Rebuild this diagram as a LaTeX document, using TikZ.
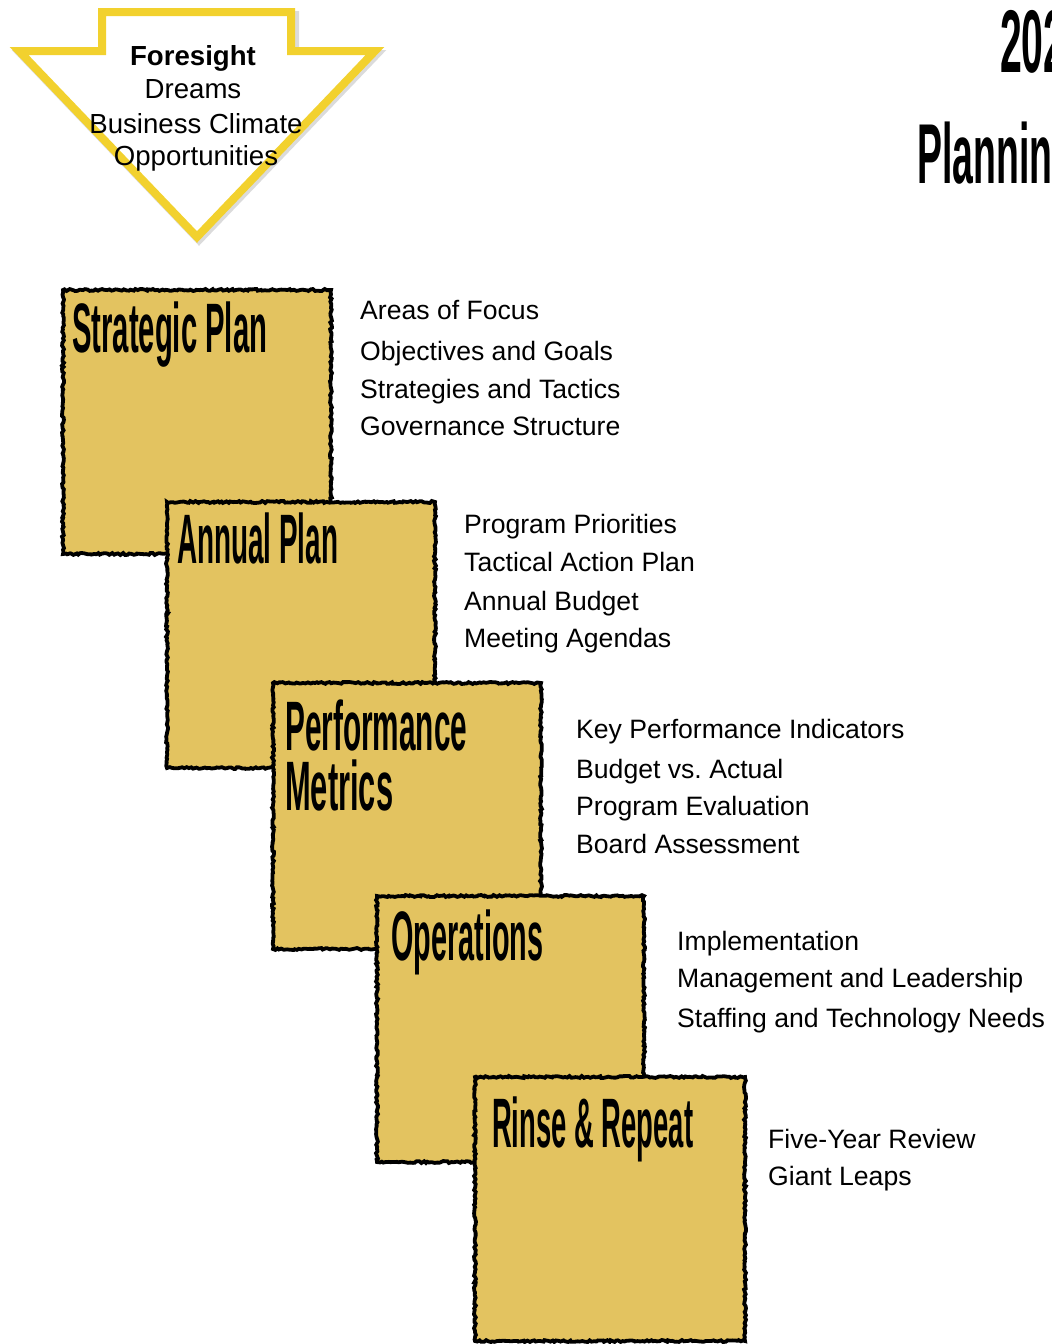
\documentclass[tikz,border=0pt]{standalone}
\usepackage{fontspec}
\setmainfont{Liberation Sans}
\usepackage{graphicx}
\usetikzlibrary{decorations.pathmorphing}
\definecolor{arrowyellow}{RGB}{242,209,46}
\definecolor{boxfill}{RGB}{227,195,96}
\newcommand\boxttl[2]{\resizebox{#1}{\height}{\bfseries #2}}
\frenchspacing
\tikzset{
  txt/.style={anchor=base west, inner sep=0pt, font=\fontsize{26.6}{30}\selectfont},
  arrtxt/.style={anchor=base, inner sep=0pt, font=\fontsize{27.6}{30}\selectfont},
  ttl/.style={anchor=base west, inner sep=0pt, font=\fontsize{70}{72}\selectfont},
  bigttl/.style={anchor=base west, inner sep=0pt},
  roughbox/.style={fill=boxfill, draw=black, line width=3.8pt,
    decorate, decoration={random steps, segment length=2.2pt, amplitude=1pt}},
  arrowline/.style={draw=arrowyellow, line width=8pt, line join=miter, fill=white},
}
\begin{document}
\begin{tikzpicture}[x=1pt,y=-1pt]
\pgfmathsetseed{7}
\useasboundingbox (0,0) rectangle (1052,1344);
% arrow
\draw[black!40, opacity=0.35, line width=8pt, line join=miter]
  (104,15) -- (295,15) -- (295,54) -- (377,54) -- (199,240) -- (21,54) -- (104,54) -- cycle;
\path[arrowline] (102,12) -- (291,12) -- (291,51) -- (375,51) -- (197,237) -- (19,51) -- (102,51) -- cycle;
\node[arrtxt, font=\fontsize{27.6}{30}\selectfont\bfseries] (fs) at (193,65) {Foresight};
\node[arrtxt] (dr) at (193,98) {Dreams};
\node[arrtxt] (bc) at (196,133) {Business Climate};
\node[arrtxt] (op) at (196,165) {Opportunities};
% top-right title
\node[bigttl, font=\fontsize{89}{90}\selectfont] (yr) at (1000,72) {\scalebox{0.44}[1]{\bfseries 202}};
\node[bigttl, font=\fontsize{85}{86}\selectfont] (pl) at (917,183) {\scalebox{0.44}[1]{\bfseries Planning}};
% boxes
\path[roughbox] (63,290) rectangle (331,554);
\node[ttl] (t1) at (72,352) {\boxttl{195pt}{Strategic Plan}};
\path[roughbox] (167,502) rectangle (435,768);
\node[ttl] (t2) at (177,563) {\boxttl{161pt}{Annual Plan}};
\path[roughbox] (273,683) rectangle (541,949);
\node[ttl] (t3a) at (285,750) {\boxttl{182pt}{Performance}};
\node[ttl] (t3b) at (285,810) {\boxttl{108pt}{Metrics}};
\path[roughbox] (377,896) rectangle (644,1162);
\node[ttl] (t4) at (391,960) {\boxttl{152pt}{Operations}};
\path[roughbox] (475,1077) rectangle (745,1341);
\node[ttl] (t5) at (492,1147) {\boxttl{201pt}{Rinse \& Repeat}};
% lists
\node[txt] (a1) at (360,319) {Areas of Focus};
\node[txt] (a2) at (360,360) {Objectives and Goals};
\node[txt] (a3) at (360,398) {Strategies and Tactics};
\node[txt] (a4) at (360,435) {Governance Structure};
\node[txt] (b1) at (464,533) {Program Priorities};
\node[txt] (b2) at (464,571) {Tactical Action Plan};
\node[txt] (b3) at (464,610) {Annual Budget};
\node[txt] (b4) at (464,647) {Meeting Agendas};
\node[txt] (c1) at (576,738) {Key Performance Indicators};
\node[txt] (c2) at (576,778) {Budget vs. Actual};
\node[txt] (c3) at (576,815) {Program Evaluation};
\node[txt] (c4) at (576,853) {Board Assessment};
\node[txt] (d1) at (677,950) {Implementation};
\node[txt] (d2) at (677,987) {Management and Leadership};
\node[txt] (d3) at (677,1027) {Staffing and Technology Needs};
\node[txt] (e1) at (768,1148) {Five-Year Review};
\node[txt] (e2) at (768,1185) {Giant Leaps};
\end{tikzpicture}
\end{document}
